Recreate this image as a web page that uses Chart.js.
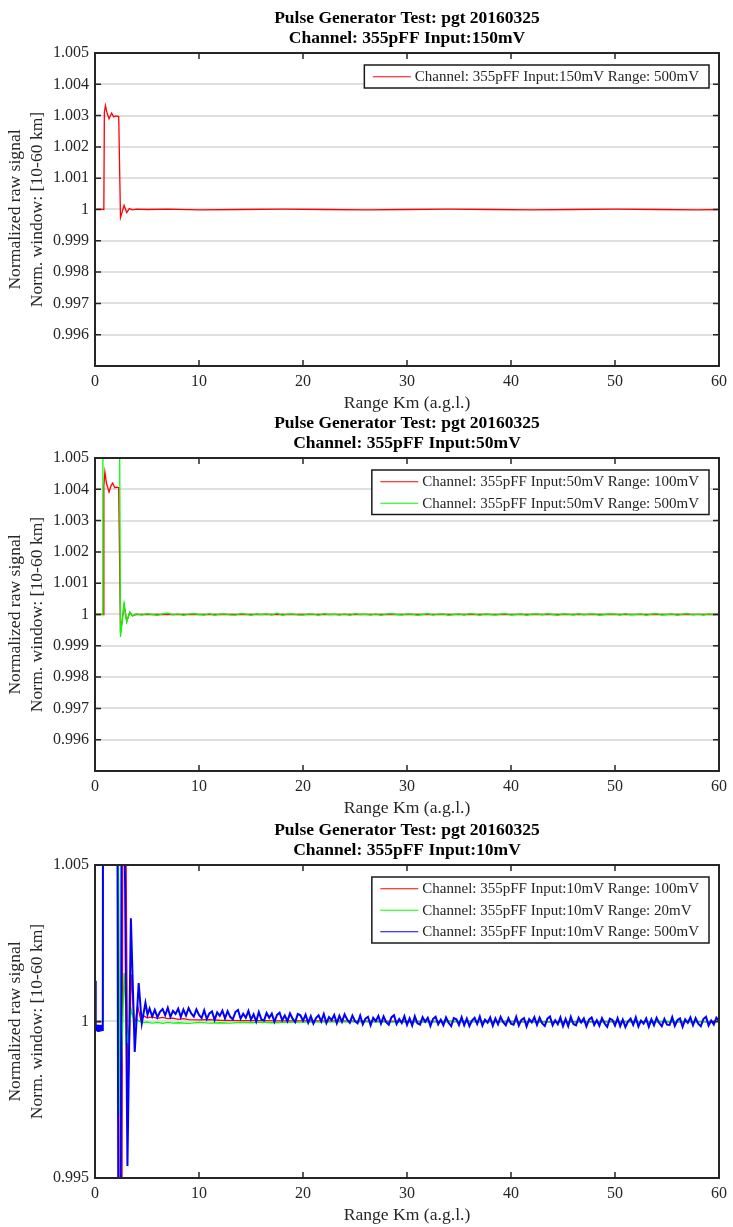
<!DOCTYPE html>
<html>
<head>
<meta charset="utf-8">
<title>Pulse Generator Test: pgt 20160325</title>
<script src="https://cdn.jsdelivr.net/npm/chart.js@4.4.1/dist/chart.umd.min.js"></script>
<style>
  html, body { margin: 0; padding: 0; background: #fff; }
  body { width: 733px; height: 1227px; position: relative; overflow: hidden; }
  canvas { position: absolute; left: 0; }
</style>
</head>
<body>
<canvas id="c1" width="733" height="414" style="top:0px"></canvas>
<canvas id="c2" width="733" height="414" style="top:405px"></canvas>
<canvas id="c3" width="733" height="414" style="top:812px"></canvas>
<script>
// ---- shared text and ticks ----
const TITLE_LINE1 = 'Pulse Generator Test: pgt 20160325';
const X_TITLE = 'Range Km (a.g.l.)';
const Y_TITLE = ['Normalized raw signal', 'Norm. window: [10-60 km]'];
const xTicks = [0, 10, 20, 30, 40, 50, 60];
const yTicksFine = [0.995, 0.996, 0.997, 0.998, 0.999, 1, 1.001, 1.002, 1.003, 1.004, 1.005];
const yLabelsFine = ['', '0.996', '0.997', '0.998', '0.999', '1', '1.001', '1.002', '1.003', '1.004', '1.005'];
const yTicksCoarse = [0.995, 1, 1.005];
const yLabelsCoarse = ['0.995', '1', '1.005'];

// ---- panel 1: input 150 mV ----
const p1Title = 'Channel: 355pFF Input:150mV';
const p1Label = 'Channel: 355pFF Input:150mV Range: 500mV';
const p1RangeKm = [0, 0.4, 0.85, 0.9, 1.0, 1.15, 1.35, 1.6, 1.8, 2.0,
  2.28, 2.45, 2.8, 3.05, 3.3, 3.6, 4.0, 5, 7, 10,
  14, 18, 22, 26, 30, 34, 38, 42, 46, 50,
  54, 58, 60];
const p1Signal = [1.0, 1.00001, 1.0, 1.0031, 1.00332, 1.0031, 1.0029, 1.00308, 1.00296, 1.00299,
  1.00297, 0.99974, 1.00013, 0.9999, 1.00003, 0.99999, 1.00001, 1.0, 1.00001, 0.99999,
  1.0, 1.00001, 1.0, 0.99999, 1.0, 1.00001, 1.0, 0.99999, 1.0, 1.00001,
  1.0, 0.99999, 1.0];

// ---- panel 2: input 50 mV ----
const p2Title = 'Channel: 355pFF Input:50mV';
const p2RedLabel = 'Channel: 355pFF Input:50mV Range: 100mV';
const p2GreenLabel = 'Channel: 355pFF Input:50mV Range: 500mV';
const p2RedKm = [0, 0.4, 0.8, 0.85, 0.95, 1.1, 1.35, 1.55, 1.7, 1.9,
  2.1, 2.28, 2.45, 2.8, 3.05, 3.35, 3.6, 4.0, 8, 15,
  25, 35, 45, 55, 60];
const p2RedSignal = [1.0, 1.0, 1.0, 1.0041, 1.00455, 1.0042, 1.00391, 1.00412, 1.0042, 1.00405,
  1.00407, 1.00405, 0.9994, 1.0003, 0.99978, 1.00007, 0.99996, 1.0, 1.0, 1.0,
  1.0, 1.0, 1.0, 1.0, 1.0];
const p2GreenKm = [0, 0.4, 0.75, 0.78, 2.28, 2.45, 2.8, 3.05, 3.35, 3.6, 3.85,
  4, 4.5, 5, 5.5, 6, 6.5, 7, 7.5, 8, 8.5, 9, 9.5, 10, 10.5, 11, 11.5, 12, 12.5, 13, 13.5,
  14, 14.5, 15, 15.5, 16, 16.5, 17, 17.5, 18, 18.5, 19, 19.5, 20, 20.5, 21, 21.5, 22, 22.5, 23, 23.5,
  24, 24.5, 25, 25.5, 26, 26.5, 27, 27.5, 28, 28.5, 29, 29.5, 30, 30.5, 31, 31.5, 32, 32.5, 33, 33.5,
  34, 34.5, 35, 35.5, 36, 36.5, 37, 37.5, 38, 38.5, 39, 39.5, 40, 40.5, 41, 41.5, 42, 42.5, 43, 43.5,
  44, 44.5, 45, 45.5, 46, 46.5, 47, 47.5, 48, 48.5, 49, 49.5, 50, 50.5, 51, 51.5, 52, 52.5, 53, 53.5,
  54, 54.5, 55, 55.5, 56, 56.5, 57, 57.5, 58, 58.5, 59, 59.5, 60];
const p2GreenSignal = [1.0, 1.00002, 1.0, 1.012, 1.012, 0.99928, 1.00034, 0.99976, 1.00008, 0.99995, 1.00001,
  1.00002, 0.99998, 1.00003, 1.00000, 0.99997, 1.00002, 1.00004, 0.99999, 1.00002, 0.99997, 1.00001, 1.00003, 1.00000, 0.99998, 1.00003, 0.99997, 1.00001, 1.00002, 0.99999, 0.99998,
  1.00003, 1.00001, 0.99997, 1.00002, 1.00000, 1.00002, 0.99998, 1.00004, 0.99997, 1.00001, 1.00002, 0.99999, 0.99998, 1.00002, 1.00001, 0.99997, 1.00003, 1.00000, 1.00001, 0.99998,
  1.00002, 0.99997, 1.00003, 1.00000, 1.00001, 0.99998, 1.00002, 0.99997, 1.00001, 1.00003, 1.00000, 0.99998, 1.00002, 1.00001, 0.99997, 1.00000, 1.00003, 0.99998, 1.00001, 1.00002,
  0.99997, 1.00000, 1.00002, 0.99998, 1.00003, 1.00001, 0.99997, 1.00002, 1.00000, 0.99998, 1.00001, 1.00003, 0.99998, 1.00000, 1.00002, 0.99997, 1.00001, 1.00002, 0.99999, 1.00003,
  1.00000, 0.99997, 1.00002, 1.00001, 0.99998, 1.00003, 0.99999, 1.00001, 1.00002, 0.99997, 1.00000, 1.00002, 1.00001, 0.99998, 1.00003, 0.99999, 1.00000, 1.00002, 0.99997, 1.00001,
  1.00003, 0.99998, 1.00000, 1.00002, 0.99997, 1.00001, 1.00003, 0.99999, 1.00001, 0.99998, 1.00002, 1.00000, 1.00001];

// ---- panel 3: input 10 mV ----
const p3Title = 'Channel: 355pFF Input:10mV';
const p3RedLabel = 'Channel: 355pFF Input:10mV Range: 100mV';
const p3GreenLabel = 'Channel: 355pFF Input:10mV Range: 20mV';
const p3BlueLabel = 'Channel: 355pFF Input:10mV Range: 500mV';
const p3RedKm = [0, 0.4, 0.75, 0.78, 2.2, 2.35, 2.55, 2.72, 2.85, 3.15,
  3.5, 3.8, 4.1, 4.4, 4.7, 5, 5.5, 6, 6.5, 7,
  7.5, 8, 8.5, 9, 10, 11, 12, 14, 16, 18,
  20, 25, 30, 35, 40, 45, 50, 55, 60];
const p3RedSignal = [1.0, 0.99998, 1.0, 1.012, 1.012, 0.988, 0.988, 1.012, 1.012, 0.99749,
  1.0015, 0.9998, 1.0005, 1.00005, 1.00018, 1.00012, 1.00015, 1.0001, 1.00013, 1.00009,
  1.00011, 1.00007, 1.00009, 1.00006, 1.00005, 1.00006, 1.00004, 1.00003, 1.00003, 1.00002,
  1.00002, 1.00001, 1.0, 1.0, 1.0, 0.99999, 1.0, 0.99999, 1.0];
const p3GreenKm = [0, 0.4, 0.75, 0.78, 2.15, 2.4, 2.8, 3.1, 3.5, 3.8,
  4.1, 4.5, 5, 5.5, 6, 6.5, 7, 7.5, 8, 9,
  10, 11, 12, 13, 14, 15, 16, 17, 18, 20,
  25, 30, 35, 40, 45, 50, 55, 60];
const p3GreenSignal = [1.0, 1.00001, 1.0, 1.012, 1.012, 0.99701, 1.00155, 0.99931, 1.00037, 0.99992,
  1.00005, 0.99996, 0.99998, 0.99995, 0.99997, 0.99994, 0.99997, 0.99995, 0.99996, 0.99994,
  0.99997, 0.99995, 0.99996, 0.99995, 0.99997, 0.99996, 0.99998, 0.99996, 0.99997, 0.99998,
  0.99999, 0.99998, 1.0, 0.99999, 0.99998, 0.99999, 1.0, 0.99999];
const p3BluePulseKm = [0.03, 0.06, 0.08, 0.12, 0.17, 0.21, 0.26, 0.30, 0.35, 0.40,
  0.45, 0.50, 0.55, 0.60, 0.65, 0.70, 0.75, 0.78, 2.12, 2.28,
  2.45, 2.58, 2.7, 3.12, 3.45, 3.82, 4.2, 4.5, 4.85, 5.05];
const p3BluePulseSignal = [1.0013, 0.9998, 0.99985, 0.99972, 0.99988, 0.99975, 0.9999, 0.9997, 0.99984, 0.99974,
  0.99989, 0.99971, 0.99985, 0.99976, 0.9999, 0.99973, 0.99984, 1.012, 1.012, 0.988,
  0.988, 1.012, 1.012, 0.99538, 1.0033, 0.99903, 1.00123, 0.99995, 1.0006, 1.00022];
const p3BlueTailKm = [
  5.25, 5.5, 5.75, 6, 6.25, 6.5, 6.75, 7, 7.25, 7.5, 7.75, 8, 8.25, 8.5, 8.75, 9, 9.25, 9.5, 9.75, 10,
  10.25, 10.5, 10.75, 11, 11.25, 11.5, 11.75, 12, 12.25, 12.5, 12.75, 13, 13.25, 13.5, 13.75, 14, 14.25, 14.5, 14.75, 15,
  15.25, 15.5, 15.75, 16, 16.25, 16.5, 16.75, 17, 17.25, 17.5, 17.75, 18, 18.25, 18.5, 18.75, 19, 19.25, 19.5, 19.75, 20,
  20.25, 20.5, 20.75, 21, 21.25, 21.5, 21.75, 22, 22.25, 22.5, 22.75, 23, 23.25, 23.5, 23.75, 24, 24.25, 24.5, 24.75, 25,
  25.25, 25.5, 25.75, 26, 26.25, 26.5, 26.75, 27, 27.25, 27.5, 27.75, 28, 28.25, 28.5, 28.75, 29, 29.25, 29.5, 29.75, 30,
  30.25, 30.5, 30.75, 31, 31.25, 31.5, 31.75, 32, 32.25, 32.5, 32.75, 33, 33.25, 33.5, 33.75, 34, 34.25, 34.5, 34.75, 35,
  35.25, 35.5, 35.75, 36, 36.25, 36.5, 36.75, 37, 37.25, 37.5, 37.75, 38, 38.25, 38.5, 38.75, 39, 39.25, 39.5, 39.75, 40,
  40.25, 40.5, 40.75, 41, 41.25, 41.5, 41.75, 42, 42.25, 42.5, 42.75, 43, 43.25, 43.5, 43.75, 44, 44.25, 44.5, 44.75, 45,
  45.25, 45.5, 45.75, 46, 46.25, 46.5, 46.75, 47, 47.25, 47.5, 47.75, 48, 48.25, 48.5, 48.75, 49, 49.25, 49.5, 49.75, 50,
  50.25, 50.5, 50.75, 51, 51.25, 51.5, 51.75, 52, 52.25, 52.5, 52.75, 53, 53.25, 53.5, 53.75, 54, 54.25, 54.5, 54.75, 55,
  55.25, 55.5, 55.75, 56, 56.25, 56.5, 56.75, 57, 57.25, 57.5, 57.75, 58, 58.25, 58.5, 58.75, 59, 59.25, 59.5, 59.75, 60];
const p3BlueTailSignal = [
  1.00042, 1.00016, 1.00037, 1.00013, 1.00031, 1.00040, 1.00020, 1.00044, 1.00015, 1.00034, 1.00024, 1.00041, 1.00014, 1.00038, 1.00019, 1.00043, 1.00026, 1.00016, 1.00039, 1.00021,
  1.00011, 1.00036, 1.00008, 1.00026, 1.00032, 1.00005, 1.00029, 1.00018, 1.00035, 1.00010, 1.00033, 1.00015, 1.00007, 1.00030, 1.00037, 1.00009, 1.00025, 1.00012, 1.00034, 1.00006,
  1.00023, 1.00000, 1.00030, 1.00007, 1.00003, 1.00027, 1.00012, 1.00025, 0.99999, 1.00021, 1.00028, 1.00004, 1.00019, 1.00001, 1.00026, 1.00009, 0.99998, 1.00024, 1.00020, 1.00002,
  1.00022, 0.99996, 1.00017, 0.99993, 1.00011, 1.00020, 1.00000, 1.00024, 0.99995, 1.00014, 1.00004, 1.00021, 0.99994, 1.00018, 0.99999, 1.00023, 1.00006, 0.99996, 1.00019, 1.00001,
  0.99994, 1.00019, 0.99991, 1.00009, 1.00015, 0.99988, 1.00012, 1.00001, 1.00018, 0.99993, 1.00016, 0.99998, 0.99990, 1.00013, 1.00020, 0.99992, 1.00008, 0.99995, 1.00017, 0.99989,
  1.00010, 0.99987, 1.00017, 0.99994, 0.99990, 1.00014, 0.99999, 1.00012, 0.99986, 1.00008, 1.00015, 0.99991, 1.00006, 0.99988, 1.00013, 0.99996, 0.99985, 1.00011, 1.00007, 0.99989,
  1.00014, 0.99988, 1.00009, 0.99985, 1.00003, 1.00012, 0.99992, 1.00016, 0.99987, 1.00006, 0.99996, 1.00013, 0.99986, 1.00010, 0.99991, 1.00015, 0.99998, 0.99988, 1.00011, 0.99993,
  0.99990, 1.00015, 0.99987, 1.00005, 1.00011, 0.99984, 1.00008, 0.99997, 1.00014, 0.99989, 1.00012, 0.99994, 0.99986, 1.00009, 1.00016, 0.99988, 1.00004, 0.99991, 1.00013, 0.99985,
  1.00008, 0.99985, 1.00015, 0.99992, 0.99988, 1.00012, 0.99997, 1.00010, 0.99984, 1.00006, 1.00013, 0.99989, 1.00004, 0.99986, 1.00011, 0.99994, 0.99983, 1.00009, 1.00005, 0.99987,
  1.00011, 0.99985, 1.00006, 0.99982, 1.00000, 1.00009, 0.99989, 1.00013, 0.99984, 1.00003, 0.99993, 1.00010, 0.99983, 1.00007, 0.99988, 1.00012, 0.99995, 0.99985, 1.00008, 0.99990,
  0.99989, 1.00014, 0.99986, 1.00004, 1.00010, 0.99983, 1.00007, 0.99996, 1.00013, 0.99988, 1.00011, 0.99993, 0.99985, 1.00008, 1.00015, 0.99987, 1.00003, 0.99990, 1.00012, 1.00002];

// ---- styling ----
const SERIF = "'Liberation Serif', 'Times New Roman', serif";
const INK = '#262626';
const RED = '#ff0000';
const GREEN = '#00ff00';
const BLUE = '#0000ff';

function points(xs, ys) {
  return xs.map((x, i) => ({ x: x, y: ys[i] }));
}

// Axes box with inward tick marks on all four sides
const axesBox = {
  id: 'axesBox',
  afterDatasetsDraw(chart) {
    const { ctx, chartArea: a, scales: { x, y } } = chart;
    const len = 6;
    ctx.save();
    ctx.strokeStyle = INK;
    ctx.lineWidth = 1.5;
    ctx.beginPath();
    x.ticks.forEach(t => {
      const px = x.getPixelForValue(t.value);
      ctx.moveTo(px, a.bottom); ctx.lineTo(px, a.bottom - len);
      ctx.moveTo(px, a.top); ctx.lineTo(px, a.top + len);
    });
    y.ticks.forEach(t => {
      const py = y.getPixelForValue(t.value);
      ctx.moveTo(a.left, py); ctx.lineTo(a.left + len, py);
      ctx.moveTo(a.right, py); ctx.lineTo(a.right - len, py);
    });
    ctx.stroke();
    ctx.lineWidth = 2;
    ctx.strokeRect(a.left, a.top, a.right - a.left, a.bottom - a.top);
    ctx.restore();
  }
};

// Boxed legend in the upper right corner of the plot area
const boxedLegend = {
  id: 'boxedLegend',
  afterDraw(chart) {
    const { ctx, chartArea: a } = chart;
    const sets = chart.data.datasets;
    ctx.save();
    ctx.font = '15px ' + SERIF;
    const textW = Math.max(...sets.map(d => ctx.measureText(d.label).width));
    const padL = 8.5, lineLen = 38, gap = 4, padR = 10, rowH = 21.5;
    const w = padL + lineLen + gap + textW + padR;
    const h = sets.length * rowH + 1.5;
    const right = a.right - 10;
    const top = a.top + 12;
    const left = right - w;
    ctx.fillStyle = '#fff';
    ctx.fillRect(left, top, w, h);
    ctx.strokeStyle = '#1a1a1a';
    ctx.lineWidth = 1.5;
    ctx.strokeRect(left, top, w, h);
    sets.forEach((d, i) => {
      const cy = top + 1 + rowH / 2 + i * rowH;
      ctx.strokeStyle = d.borderColor;
      ctx.lineWidth = 1;
      ctx.beginPath();
      ctx.moveTo(left + padL, cy);
      ctx.lineTo(left + padL + lineLen, cy);
      ctx.stroke();
      ctx.fillStyle = INK;
      ctx.textAlign = 'left';
      ctx.textBaseline = 'middle';
      ctx.fillText(d.label, left + padL + lineLen + gap, cy + 0.5);
    });
    ctx.restore();
  }
};

function makePanel(canvasId, subtitle, yTicks, yLabels, datasets) {
  return new Chart(document.getElementById(canvasId), {
    type: 'line',
    data: { datasets: datasets },
    options: {
      responsive: false,
      animation: false,
      devicePixelRatio: 1,
      layout: { padding: { left: 0, right: 10, top: 0, bottom: 0 } },
      elements: { point: { radius: 0 }, line: { borderWidth: 1.3, tension: 0 } },
      plugins: {
        legend: { display: false },
        tooltip: { enabled: false },
        title: {
          display: true,
          fullSize: false,
          text: [TITLE_LINE1, subtitle],
          color: '#000',
          font: { family: SERIF, size: 17.5, weight: 'bold', lineHeight: 1.15 },
          padding: { top: 8, bottom: 4.75 }
        }
      },
      scales: {
        x: {
          type: 'linear',
          min: 0,
          max: 60,
          afterBuildTicks: s => { s.ticks = xTicks.map(v => ({ value: v })); },
          afterFit: s => { s.height = 48; },
          ticks: { padding: 6, color: INK, maxRotation: 0, font: { family: SERIF, size: 16 }, callback: v => String(v) },
          grid: { display: false, drawTicks: false },
          border: { display: false },
          title: { display: true, text: X_TITLE, color: INK, font: { family: SERIF, size: 17.6, lineHeight: 1.2 }, padding: { top: 0, bottom: 0.5 } }
        },
        y: {
          type: 'linear',
          min: 0.995,
          max: 1.005,
          afterBuildTicks: s => { s.ticks = yTicks.map(v => ({ value: v })); },
          afterFit: s => { s.width = 95; },
          ticks: { padding: 6, color: INK, font: { family: SERIF, size: 16 }, callback: (v, i) => yLabels[i] },
          grid: { color: '#e0e0e0', lineWidth: 2, drawTicks: false },
          border: { display: false },
          title: { display: true, text: Y_TITLE, color: INK, font: { family: SERIF, size: 17.6, lineHeight: 1.25 }, padding: { top: 4, bottom: 0 } }
        }
      }
    },
    plugins: [axesBox, boxedLegend]
  });
}

makePanel('c1', p1Title, yTicksFine, yLabelsFine, [
  { label: p1Label, data: points(p1RangeKm, p1Signal), borderColor: RED }
]);

makePanel('c2', p2Title, yTicksFine, yLabelsFine, [
  { label: p2RedLabel, data: points(p2RedKm, p2RedSignal), borderColor: RED, order: 2 },
  { label: p2GreenLabel, data: points(p2GreenKm, p2GreenSignal), borderColor: GREEN, order: 1 }
]);

makePanel('c3', p3Title, yTicksCoarse, yLabelsCoarse, [
  { label: p3RedLabel, data: points(p3RedKm, p3RedSignal), borderColor: RED, order: 3 },
  { label: p3GreenLabel, data: points(p3GreenKm, p3GreenSignal), borderColor: GREEN, order: 2 },
  { label: p3BlueLabel, data: points(p3BluePulseKm.concat(p3BlueTailKm), p3BluePulseSignal.concat(p3BlueTailSignal)), borderColor: BLUE, borderWidth: 2, order: 1 }
]);
</script>
</body>
</html>
